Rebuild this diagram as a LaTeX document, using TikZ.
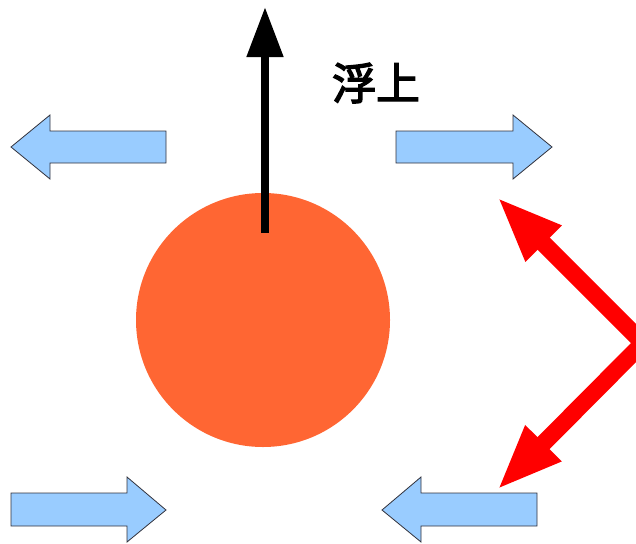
\documentclass[tikz,border=0pt]{standalone}
\usepackage{fontspec}
\newfontfamily\cjk[FakeBold=3]{Noto Sans CJK JP}
\usetikzlibrary{arrows.meta}
\definecolor{flowblue}{RGB}{153,204,255}
\definecolor{ballorange}{RGB}{255,102,51}
\definecolor{edgegray}{RGB}{50,50,60}
\tikzset{
  flowarrow/.style={fill=flowblue, draw=edgegray, line width=0.8pt, line join=miter},
}
\begin{document}
\begin{tikzpicture}[x=1pt,y=-1pt]
\useasboundingbox (0,0) rectangle (636,543);
% ball
\fill[ballorange] (263,320) circle[radius=127];
% flow arrows
\draw[flowarrow] (11,147) -- (50,115) -- (50,131) -- (166,131) -- (166,163) -- (50,163) -- (50,179) -- cycle;
\draw[flowarrow] (552,147) -- (513,115) -- (513,131) -- (396,131) -- (396,163) -- (513,163) -- (513,179) -- cycle;
\draw[flowarrow] (166,510) -- (127,477) -- (127,493) -- (11,493) -- (11,526) -- (127,526) -- (127,542) -- cycle;
\draw[flowarrow] (382,510) -- (421,477) -- (421,493) -- (537,493) -- (537,526) -- (421,526) -- (421,542) -- cycle;
% lift arrow
\coordinate (liftbase) at (265,233);
\coordinate (lifttip) at (265,7);
\draw[line width=8pt, -{Triangle[length=50pt,width=35pt]}] (liftbase) -- (lifttip);
\node[font=\cjk\fontsize{44}{44}\selectfont, anchor=center] (lift) at (376,83) {浮上};
% red double arrow
\coordinate (rtop) at (497,197);
\coordinate (rmid) at (643,343);
\coordinate (rbot) at (497,490);
\draw[red, line width=17pt, line join=miter, miter limit=10,
  {Triangle[length=66pt,width=46pt]}-{Triangle[length=66pt,width=46pt]}] (rtop) -- (rmid) -- (rbot);
\end{tikzpicture}
\end{document}
